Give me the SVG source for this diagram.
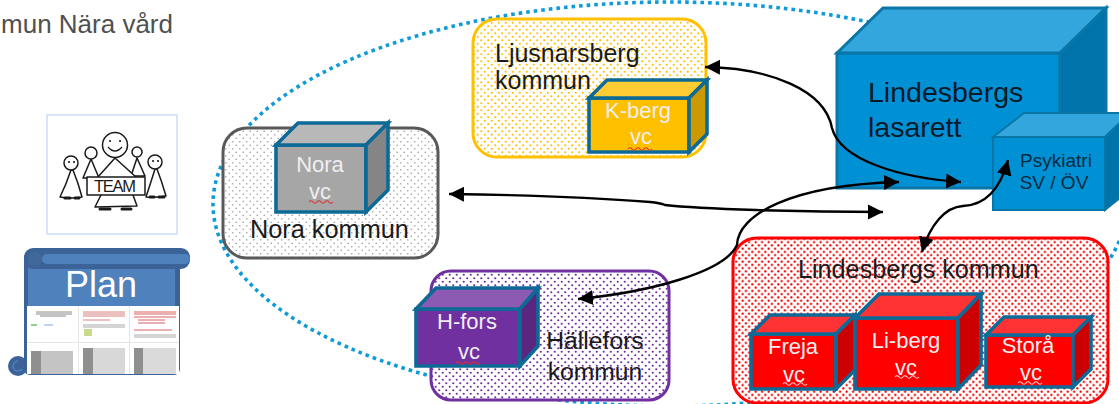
<svg xmlns="http://www.w3.org/2000/svg" width="1119" height="404" viewBox="0 0 1119 404">
<style>
text{font-family:"Liberation Sans",Arial,sans-serif}
.lab{fill:#1a1a1a}
.vc{fill:#f0eef0;text-anchor:middle;font-size:22px}
.k{stroke-width:3;stroke-linejoin:round}
.cube{stroke:#0d6a96;stroke-width:3.600;stroke-linejoin:miter}
.wave{fill:none;stroke-width:1.2}
.conn{fill:none;stroke:#000;stroke-width:2.400;marker-start:url(#ah);marker-end:url(#ah)}
.sk{fill:#fff;stroke:#1a1a1a;stroke-width:1.500;stroke-linejoin:round;stroke-linecap:round}
.dl{stroke-width:1}
</style>
<defs>
<marker id="ah" markerUnits="userSpaceOnUse" markerWidth="16" markerHeight="16" refX="15" refY="8" orient="auto-start-reverse"><path d="M0 0.500L15 8L0 15.500z" fill="#000"/></marker>
<pattern id="pg" width="7" height="7" patternUnits="userSpaceOnUse"><rect width="7" height="7" fill="#fff"/><circle cx="1.750" cy="1.750" r=".85" fill="#a8a8a8"/><circle cx="5.250" cy="5.250" r=".85" fill="#a8a8a8"/></pattern>
<pattern id="py" width="7" height="7" patternUnits="userSpaceOnUse"><rect width="7" height="7" fill="#fff"/><circle cx="1.750" cy="1.750" r="1.100" fill="#ffc000"/><circle cx="5.250" cy="5.250" r="1.100" fill="#ffc000"/></pattern>
<pattern id="pr" width="6.500" height="6.500" patternUnits="userSpaceOnUse"><rect width="6.500" height="6.500" fill="#fff"/><circle cx="1.625" cy="1.625" r="1.150" fill="#f00000"/><circle cx="4.875" cy="4.875" r="1.150" fill="#f00000"/></pattern>
<pattern id="pp" width="7" height="7" patternUnits="userSpaceOnUse"><rect width="7" height="7" fill="#fff"/><circle cx="1.750" cy="1.750" r="1.100" fill="#7030a0"/><circle cx="5.250" cy="5.250" r="1.100" fill="#7030a0"/></pattern>
</defs>
<rect width="1119" height="404" fill="#fff"/>
<text x="173" y="33" text-anchor="end" font-size="26" fill="#505050">mun Nära vård</text>
<ellipse id="dotted-ring" cx="670" cy="204" rx="457" ry="202" fill="none" stroke="#0f9bd7" stroke-width="3.600" stroke-dasharray="3.600 4"/>

<g id="team">
<rect x="47" y="115" width="130" height="119" fill="#fff" stroke="#c5dcf8" stroke-width="1.400"/>
<path class="sk" d="M91 159L83 178L99 178Z"/><circle class="sk" cx="91" cy="153" r="6"/>
<path class="sk" d="M137 158L131 176L145 176Z"/><circle class="sk" cx="137" cy="152" r="5"/>
<path class="sk" d="M71 170Q66 185 60 197Q70 199 82 197Q78 182 73 170Z"/><circle class="sk" cx="71" cy="163" r="7"/>
<path class="sk" d="M155 169Q150 185 146 197Q156 198 166 196Q162 182 157 169Z"/><circle class="sk" cx="155" cy="162" r="7"/>
<path class="sk" d="M115 158L97 178L101 195L95 207L137 206L133 195L137 178Z"/><circle class="sk" cx="115" cy="145" r="12.500"/>
<path d="M108 147Q115 155 122 147" fill="none" stroke="#1a1a1a" stroke-width="1.300"/>
<path d="M110 141h.1M120 141h.1M69 162h.1M74 162h.1M153 161h.1M158 161h.1" stroke="#1a1a1a" stroke-width="2" stroke-linecap="round"/>
<rect class="sk" x="87" y="177" width="58" height="18"/>
<text x="115" y="191.500" text-anchor="middle" font-size="16.500" fill="#1a1a1a" textLength="42">TEAM</text>
<path d="M100 209h10M122 209h9M65 198h5M75 198h4M150 197h4M159 197h5" stroke="#1a1a1a" stroke-width="3" stroke-linecap="round"/>
</g>

<g id="plan">
<circle cx="18" cy="366" r="10" fill="#3b6397"/>
<path d="M18 361a5 5 0 1 0 4 8" fill="none" stroke="#4f81bd" stroke-width="1.500"/>
<rect x="24" y="256" width="156" height="119" rx="6" fill="#3b6397"/>
<rect x="28" y="266" width="147" height="42" fill="#4f81bd"/>
<rect x="24" y="248" width="166" height="21" rx="9" fill="#3b6397"/>
<rect x="42" y="254" width="148" height="10" rx="5" fill="#4f81bd"/>
<circle cx="35" cy="259" r="7" fill="#41689b"/>
<rect x="27" y="306" width="152" height="68" fill="#fff"/>
<path d="M78.500 306V374M129.500 306V374M27 342.500H179" stroke="#e6e6e6" stroke-width="1"/>
<path class="dl" stroke="#8a8a8a" d="M36 312H72M36 314H72M40 316H66"/><path d="M31 325h6" stroke="#8fd08f" stroke-width="2"/><path d="M44 325h9" stroke="#7fa6e0" stroke-width="1"/>
<path class="dl" stroke="#d98080" d="M83 312H125M83 314H125M83 316H125M83 320H110"/><path class="dl" stroke="#aaa" d="M83 325H125M83 327H125"/><rect x="84" y="329" width="8" height="7" fill="#c9d98c"/>
<path class="dl" stroke="#d86060" d="M134 312H176M134 314H176M134 317H176M138 320H165M138 323H165M134 330H172"/><path class="dl" stroke="#aaa" d="M134 335H176M134 337H176"/>
<rect x="31" y="351" width="42" height="23" fill="#c4c4c4"/><rect x="31" y="351" width="10" height="23" fill="#8f8f8f"/>
<rect x="83" y="348" width="42" height="26" fill="#d8d8d8"/><rect x="83" y="348" width="10" height="26" fill="#8f8f8f"/>
<rect x="134" y="348" width="42" height="26" fill="#dadada"/><rect x="134" y="348" width="9" height="26" fill="#8f8f8f"/>
</g>

<g id="nora-kommun">
<rect class="k" x="223" y="128" width="215" height="130" rx="24" fill="url(#pg)" stroke="#595959"/>
<path class="cube" fill="#a6a6a6" d="M276 145H366V212H276Z"/>
<path class="cube" fill="#b8b8b8" d="M276 145L298 123H388L366 145Z"/>
<path class="cube" fill="#858585" d="M366 145L388 123V190L366 212Z"/>
<text class="vc" x="320" y="172">Nora</text>
<text class="vc" x="320" y="199">vc</text>
<path class="wave" stroke="#e03030" d="M309 202q2-2.500 4 0t4 0t4 0t4 0t4 0t4 0"/>
<text class="lab" x="250" y="238" font-size="25.300">Nora kommun</text>
</g>

<g id="ljusnarsberg-kommun">
<rect class="k" x="473" y="19" width="233" height="138" rx="24" fill="url(#py)" stroke="#ffc000"/>
<text class="lab" x="495" y="62" font-size="25">Ljusnarsberg</text>
<text class="lab" x="495" y="89" font-size="25">kommun</text>
<path class="cube" fill="#ffc000" d="M589 98H689V152H589Z"/>
<path class="cube" fill="#ffcd33" d="M589 98L607 80H707L689 98Z"/>
<path class="cube" fill="#cc9a00" d="M689 98L707 80V134L689 152Z"/>
<text class="vc" x="638" y="118">K-berg</text>
<text class="vc" x="641" y="144">vc</text>
<path class="wave" stroke="#e03030" d="M628 149q2-2.500 4 0t4 0t4 0t4 0t4 0t4 0"/>
</g>

<g id="lindesbergs-lasarett">
<path fill="#0091d5" stroke="#0a76a8" stroke-width="3" d="M837 53H1060V188H837Z"/>
<path fill="#33a7dd" stroke="#0a76a8" stroke-width="3" d="M837 53L883 8H1106L1060 53Z"/>
<path fill="#0074aa" stroke="#0a76a8" stroke-width="3" d="M1060 53L1106 8V143L1060 188Z"/>
<text x="868" y="102" font-size="28.500" fill="#0a1a28">Lindesbergs</text>
<text x="868" y="137" font-size="28.500" fill="#0a1a28">lasarett</text>
</g>

<g id="psykiatri">
<path fill="#0091d5" stroke="#0a76a8" stroke-width="2" d="M993 137H1105V210H993Z"/>
<path fill="#33a7dd" stroke="#0a76a8" stroke-width="2" d="M993 137L1024 113H1130L1105 137Z"/>
<path fill="#0074aa" stroke="#0a76a8" stroke-width="2" d="M1105 137L1130 113V190L1105 210Z"/>
<text x="1056" y="167" text-anchor="middle" font-size="19" fill="#0a2a40">Psykiatri</text>
<text x="1054" y="189" text-anchor="middle" font-size="19" fill="#0a2a40">SV / ÖV</text>
</g>

<g id="hallefors-kommun">
<rect class="k" x="431" y="271" width="238" height="129" rx="20" fill="url(#pp)" stroke="#7030a0"/>
<path class="cube" fill="#7030a0" d="M416 309H520V366H416Z"/>
<path class="cube" fill="#8c59b3" d="M416 309L436 288H538L520 309Z"/>
<path class="cube" fill="#5a2680" d="M520 309L538 288V346L520 366Z"/>
<text class="vc" x="467" y="329">H-fors</text>
<text class="vc" x="469" y="359">vc</text>
<path class="wave" stroke="#e03030" d="M456 363q2-2.500 4 0t4 0t4 0t4 0t4 0t4 0"/>
<text class="lab" x="595" y="349" text-anchor="middle" font-size="24.700">Hällefors</text>
<text class="lab" x="595" y="380" text-anchor="middle" font-size="24.700">kommun</text>
</g>

<g id="lindesbergs-kommun">
<rect class="k" x="733" y="238" width="375" height="165" rx="24" fill="url(#pr)" stroke="#ff0000"/>
<text class="lab" x="798" y="278" font-size="25.200">Lindesbergs kommun</text>
<g id="freja-vc">
<path class="cube" fill="#ff0000" d="M751 334H836V389H751Z"/>
<path class="cube" fill="#ff3333" d="M751 334L770 315H855L836 334Z"/>
<path class="cube" fill="#cc0000" d="M836 334L855 315V370L836 389Z"/>
<text class="vc" x="793" y="354">Freja</text>
<text class="vc" x="794" y="382">vc</text>
<path class="wave" stroke="#ffd0d0" d="M783 384q2-2.500 4 0t4 0t4 0t4 0t4 0t4 0"/>
</g>
<g id="liberg-vc">
<path class="cube" fill="#ff0000" d="M855 318H958V389H855Z"/>
<path class="cube" fill="#ff3333" d="M855 318L879 294H981L958 318Z"/>
<path class="cube" fill="#cc0000" d="M958 318L981 294V365L958 389Z"/>
<text class="vc" x="906" y="348">Li-berg</text>
<text class="vc" x="906" y="375">vc</text>
<path class="wave" stroke="#ffd0d0" d="M895 377q2-2.500 4 0t4 0t4 0t4 0t4 0t4 0"/>
</g>
<g id="stora-vc">
<path class="cube" fill="#ff0000" d="M986 335H1073V387H986Z"/>
<path class="cube" fill="#ff3333" d="M986 335L1004 317H1091L1073 335Z"/>
<path class="cube" fill="#cc0000" d="M1073 335L1091 317V369L1073 387Z"/>
<text class="vc" x="1028" y="353">Storå</text>
<text class="vc" x="1031" y="380">vc</text>
<path class="wave" stroke="#ffd0d0" d="M1018 383q2-2.500 4 0t4 0t4 0t4 0t4 0t4 0"/>
</g>
</g>

<g id="connectors">
<path class="conn" d="M449 194C530 195 600 198 650 202Q660 203 665 205C700 209 800 212 883 212"/>
<path class="conn" d="M578 299C650 292 725 272 737 245C738 215 790 185 899 182"/>
<path class="conn" d="M705 67C770 68 825 90 832 128C840 160 900 178 961 182"/>
<path class="conn" d="M1008 160C1000 190 985 205 963 206C945 207 930 225 922 252"/>
</g>

<g id="plan-title"><text x="101" y="297" text-anchor="middle" font-size="36" fill="#fff">Plan</text></g>
</svg>
